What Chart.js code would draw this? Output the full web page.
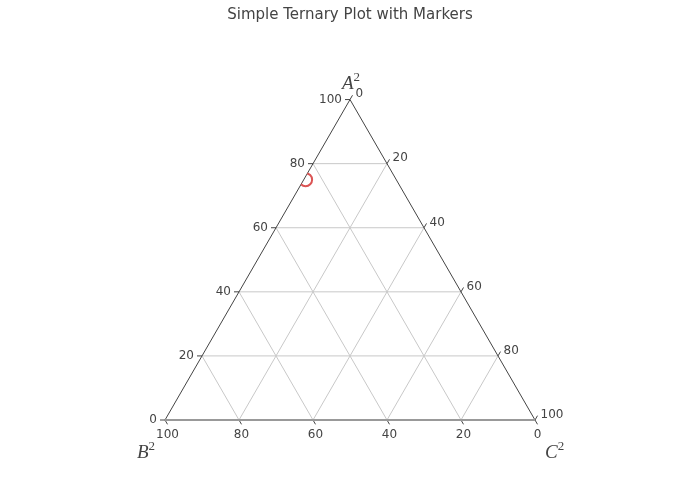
<!DOCTYPE html>
<html>
<head>
<meta charset="utf-8">
<script src="https://cdn.jsdelivr.net/npm/chart.js@4.4.1/dist/chart.umd.min.js"></script>
<style>
  html, body { margin: 0; padding: 0; background: #fff; }
  canvas { display: block; }
</style>
</head>
<body>
<canvas id="c" width="700" height="500"></canvas>
<script>
// ---- data ----
const chartTitle = 'Simple Ternary Plot with Markers';
const axisTitles = ['A', 'B', 'C'];
const tickValues = [0, 20, 40, 60, 80, 100];
const gridValues = [20, 40, 60, 80];
const aValues = [75];
const bValues = [24.5];
const cValues = [0.5];

// ---- helpers ----
const SQ = Math.sqrt(3) / 2;
function toXY(a, b, c) {
  const s = a + b + c;
  a /= s; b /= s; c /= s;
  return { x: 0.5 * a + c, y: SQ * a };
}
const PXU = 370;            // pixels per data unit
const TL = 5 / PXU;         // tick length in data units
const X_MIN = -165 / PXU, X_MAX = X_MIN + 700 / PXU;
const Y_MIN = -80 / PXU, Y_MAX = Y_MIN + 500 / PXU;

const datasets = [];
const gridColor = 'rgba(200,200,200,1)';
// grid lines
gridValues.forEach(k => {
  const r = 100 - k;
  datasets.push({ type: 'scatter', showLine: true, data: [toXY(k, r, 0), toXY(k, 0, r)], borderColor: gridColor, borderWidth: 1, pointRadius: 0, order: 3 });
  datasets.push({ type: 'scatter', showLine: true, data: [toXY(r, k, 0), toXY(0, k, r)], borderColor: gridColor, borderWidth: 1, pointRadius: 0, order: 3 });
  datasets.push({ type: 'scatter', showLine: true, data: [toXY(r, 0, k), toXY(0, r, k)], borderColor: gridColor, borderWidth: 1, pointRadius: 0, order: 3 });
});
// edges
datasets.push({ type: 'scatter', showLine: true, data: [toXY(0, 100, 0), toXY(0, 0, 100)], borderColor: '#999', borderWidth: 2, pointRadius: 0, order: 2 });
datasets.push({ type: 'scatter', showLine: true, data: [toXY(0, 100, 0), toXY(100, 0, 0), toXY(0, 0, 100)], borderColor: '#444', borderWidth: 1, pointRadius: 0, order: 2 });
// ticks
const tickInfo = [];
tickValues.forEach(k => {
  const r = 100 - k;
  const pa = toXY(k, r, 0), ea = { x: pa.x - TL, y: pa.y };
  const pb = toXY(0, k, r), eb = { x: pb.x + 0.5 * TL, y: pb.y - SQ * TL };
  const pc = toXY(r, 0, k), ec = { x: pc.x + 0.5 * TL, y: pc.y + SQ * TL };
  [[pa, ea, 'a'], [pb, eb, 'b'], [pc, ec, 'c']].forEach(([p, e, ax]) => {
    datasets.push({ type: 'scatter', showLine: true, data: [p, e], borderColor: '#444', borderWidth: 1, pointRadius: 0, order: 2 });
    tickInfo.push({ ax, k, e });
  });
});
// markers
datasets.push({
  label: 'marker', type: 'scatter',
  data: aValues.map((a, i) => toXY(a, bValues[i], cValues[i])),
  pointStyle: 'circle', pointRadius: 6.5, pointBorderWidth: 2,
  borderColor: 'rgb(219,84,84)', backgroundColor: 'rgba(0,0,0,0)',
  pointBorderColor: 'rgb(219,84,84)', pointBackgroundColor: 'rgba(0,0,0,0)',
  order: 0
});

const ternaryPlugin = {
  id: 'ternary',
  beforeDatasetDraw(chart, args) {
    if (chart.data.datasets[args.index].label !== 'marker') return;
    const xs = chart.scales.x, ys = chart.scales.y, ctx = chart.ctx;
    const v = [toXY(100, 0, 0), toXY(0, 100, 0), toXY(0, 0, 100)];
    ctx.save();
    ctx.beginPath();
    v.forEach((p, i) => {
      const px = xs.getPixelForValue(p.x), py = ys.getPixelForValue(p.y);
      if (i === 0) ctx.moveTo(px, py); else ctx.lineTo(px, py);
    });
    ctx.closePath();
    ctx.clip();
  },
  afterDatasetDraw(chart, args) {
    if (chart.data.datasets[args.index].label !== 'marker') return;
    chart.ctx.restore();
  },
  afterDraw(chart) {
    const xs = chart.scales.x, ys = chart.scales.y, ctx = chart.ctx;
    ctx.save();
    ctx.fillStyle = '#444';
    ctx.font = '12px "DejaVu Sans"';
    tickInfo.forEach(t => {
      const px = xs.getPixelForValue(t.e.x), py = ys.getPixelForValue(t.e.y);
      if (t.ax === 'a') { ctx.textAlign = 'right'; ctx.textBaseline = 'middle'; ctx.fillText(String(t.k), px - 3, py); }
      if (t.ax === 'b') { ctx.textAlign = 'center'; ctx.textBaseline = 'top'; ctx.fillText(String(t.k), px, py + 5); }
      if (t.ax === 'c') { ctx.textAlign = 'left'; ctx.textBaseline = 'middle'; ctx.fillText(String(t.k), px + 3, py - 1); }
    });
    // title
    ctx.font = '15px "DejaVu Sans"';
    ctx.textAlign = 'center'; ctx.textBaseline = 'middle';
    ctx.fillText(chartTitle, 350, 15);
    // axis titles
    const top = toXY(100, 0, 0), bl = toXY(0, 100, 0), br = toXY(0, 0, 100);
    const pos = [
      [xs.getPixelForValue(top.x) - 8, ys.getPixelForValue(top.y) - 11],
      [xs.getPixelForValue(bl.x) - 28, ys.getPixelForValue(bl.y) + 38],
      [xs.getPixelForValue(br.x) + 10, ys.getPixelForValue(br.y) + 38]
    ];
    axisTitles.forEach((t, i) => {
      const [x, y] = pos[i];
      ctx.textAlign = 'left'; ctx.textBaseline = 'alphabetic';
      ctx.font = 'italic 19px "Liberation Serif"';
      ctx.fillText(t, x, y);
      const w = ctx.measureText(t).width;
      ctx.font = '13px "Liberation Serif"';
      ctx.fillText('2', x + w, y - 8);
    });
    ctx.restore();
  }
};

new Chart(document.getElementById('c'), {
  type: 'scatter',
  data: { datasets },
  options: {
    responsive: false,
    animation: false,
    events: [],
    layout: { padding: 0, autoPadding: false },
    plugins: { legend: { display: false }, tooltip: { enabled: false }, title: { display: false } },
    scales: {
      x: { type: 'linear', display: false, min: X_MIN, max: X_MAX },
      y: { type: 'linear', display: false, min: Y_MIN, max: Y_MAX }
    }
  },
  plugins: [ternaryPlugin]
});
</script>
</body>
</html>
